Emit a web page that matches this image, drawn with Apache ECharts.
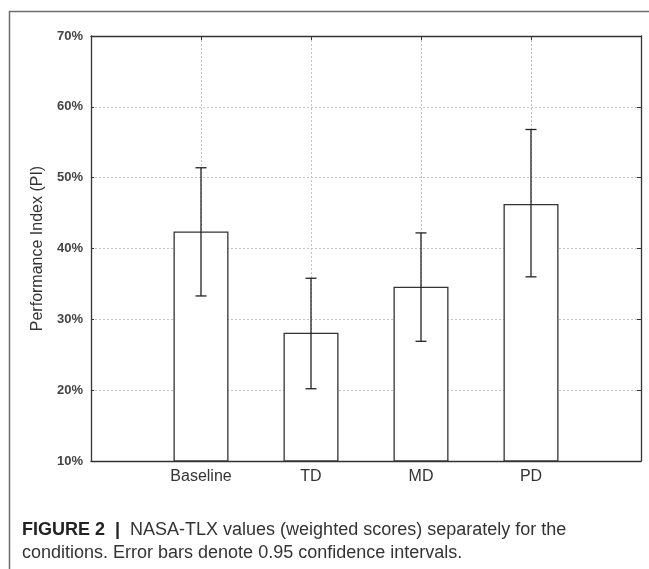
<!DOCTYPE html>
<html>
<head>
<meta charset="utf-8">
<script src="https://cdn.jsdelivr.net/npm/echarts@6/dist/echarts.min.js"></script>
<style>
  html, body { margin: 0; padding: 0; background: #fff; }
  #chart { width: 649px; height: 569px; }
</style>
</head>
<body>
<div id="chart"></div>
<script>
// Conditions, mean performance index (%), and 0.95 confidence limits
const categories = ['Baseline', 'TD', 'MD', 'PD'];
const meanPI = [42.4, 28.1, 34.6, 46.3];
const ciLow = [33.3, 20.2, 26.9, 36.0];
const ciHigh = [51.4, 35.8, 42.2, 56.8];
const yTicks = [10, 20, 30, 40, 50, 60, 70];

// Axis slots: an empty slot at each edge so the four conditions sit at 1..4 of 0..5
const slots = [''].concat(categories, ['']);
const barData = ['-'].concat(meanPI, ['-']);
const errData = categories.map((c, i) => [i + 1, ciLow[i], ciHigh[i]]);

const axisColor = '#333';
const font = 'Liberation Sans, Arial, sans-serif';
const gridLine = { show: true, lineStyle: { color: '#c4c4c4', type: [2, 2], width: 1 } };

const chart = echarts.init(document.getElementById('chart'));
chart.setOption({
  backgroundColor: '#fff',
  animation: false,
  grid: { left: 91, top: 36, right: 8, bottom: 108 },
  xAxis: [
    {
      type: 'category', data: slots, boundaryGap: false, position: 'bottom',
      axisLine: { lineStyle: { color: axisColor, width: 1.3 } },
      axisTick: { show: true, inside: true, length: 4, lineStyle: { color: axisColor } },
      axisLabel: { color: '#333', fontSize: 16, fontFamily: font, margin: 8, interval: 0 },
      splitLine: gridLine
    },
    {
      type: 'category', data: slots, boundaryGap: false, position: 'top',
      axisLine: { lineStyle: { color: axisColor, width: 1.3 } },
      axisTick: { show: true, inside: true, length: 4, lineStyle: { color: axisColor } },
      axisLabel: { show: false }, splitLine: { show: false }
    }
  ],
  yAxis: [
    {
      type: 'value', min: yTicks[0], max: yTicks[yTicks.length - 1], interval: 10,
      name: 'Performance Index (PI)', nameLocation: 'middle', nameGap: 44,
      nameTextStyle: { color: '#333', fontSize: 16, fontFamily: font },
      axisLine: { show: true, lineStyle: { color: axisColor, width: 1.3 } },
      axisTick: { show: true, inside: true, length: 3, lineStyle: { color: axisColor } },
      axisLabel: { color: '#444', fontSize: 13, fontWeight: 'bold', fontFamily: font, margin: 8, formatter: '{value}%' },
      splitLine: gridLine
    },
    {
      type: 'value', min: yTicks[0], max: yTicks[yTicks.length - 1], interval: 10, position: 'right',
      axisLine: { show: true, lineStyle: { color: axisColor, width: 1.3 } },
      axisTick: { show: true, inside: true, length: 4, lineStyle: { color: axisColor } },
      axisLabel: { show: false }, splitLine: { show: false }
    }
  ],
  series: [
    {
      type: 'bar', data: barData, barWidth: 55,
      itemStyle: { color: '#fff', borderColor: '#333', borderWidth: 1.3 }
    },
    {
      type: 'custom', data: errData, z: 5,
      renderItem: function (params, api) {
        const x = api.value(0);
        const lo = api.coord([x, api.value(1)]);
        const hi = api.coord([x, api.value(2)]);
        const cap = 5.5;
        const style = { stroke: '#222', lineWidth: 1.3 };
        return {
          type: 'group',
          children: [
            { type: 'line', shape: { x1: lo[0], y1: lo[1], x2: hi[0], y2: hi[1] }, style: style },
            { type: 'line', shape: { x1: hi[0] - cap, y1: hi[1], x2: hi[0] + cap, y2: hi[1] }, style: style },
            { type: 'line', shape: { x1: lo[0] - cap, y1: lo[1], x2: lo[0] + cap, y2: lo[1] }, style: style }
          ]
        };
      }
    }
  ],
  graphic: [
    // figure frame
    { type: 'polyline', shape: { points: [[9.5, 569], [9.5, 11.5], [649, 11.5]] }, style: { stroke: '#6e6e6e', lineWidth: 1.5, fill: null } },
    {
      type: 'text', left: 22, top: 519,
      style: {
        text: '{b|FIGURE 2  |  }NASA-TLX values (weighted scores) separately for the\nconditions. Error bars denote 0.95 confidence intervals.',
        fill: '#333', font: '18px "Liberation Sans", Arial, sans-serif', lineHeight: 23,
        rich: { b: { fontWeight: 'bold', fontSize: 18, fill: '#222', fontFamily: font, lineHeight: 23 } }
      }
    }
  ]
});
</script>
</body>
</html>
